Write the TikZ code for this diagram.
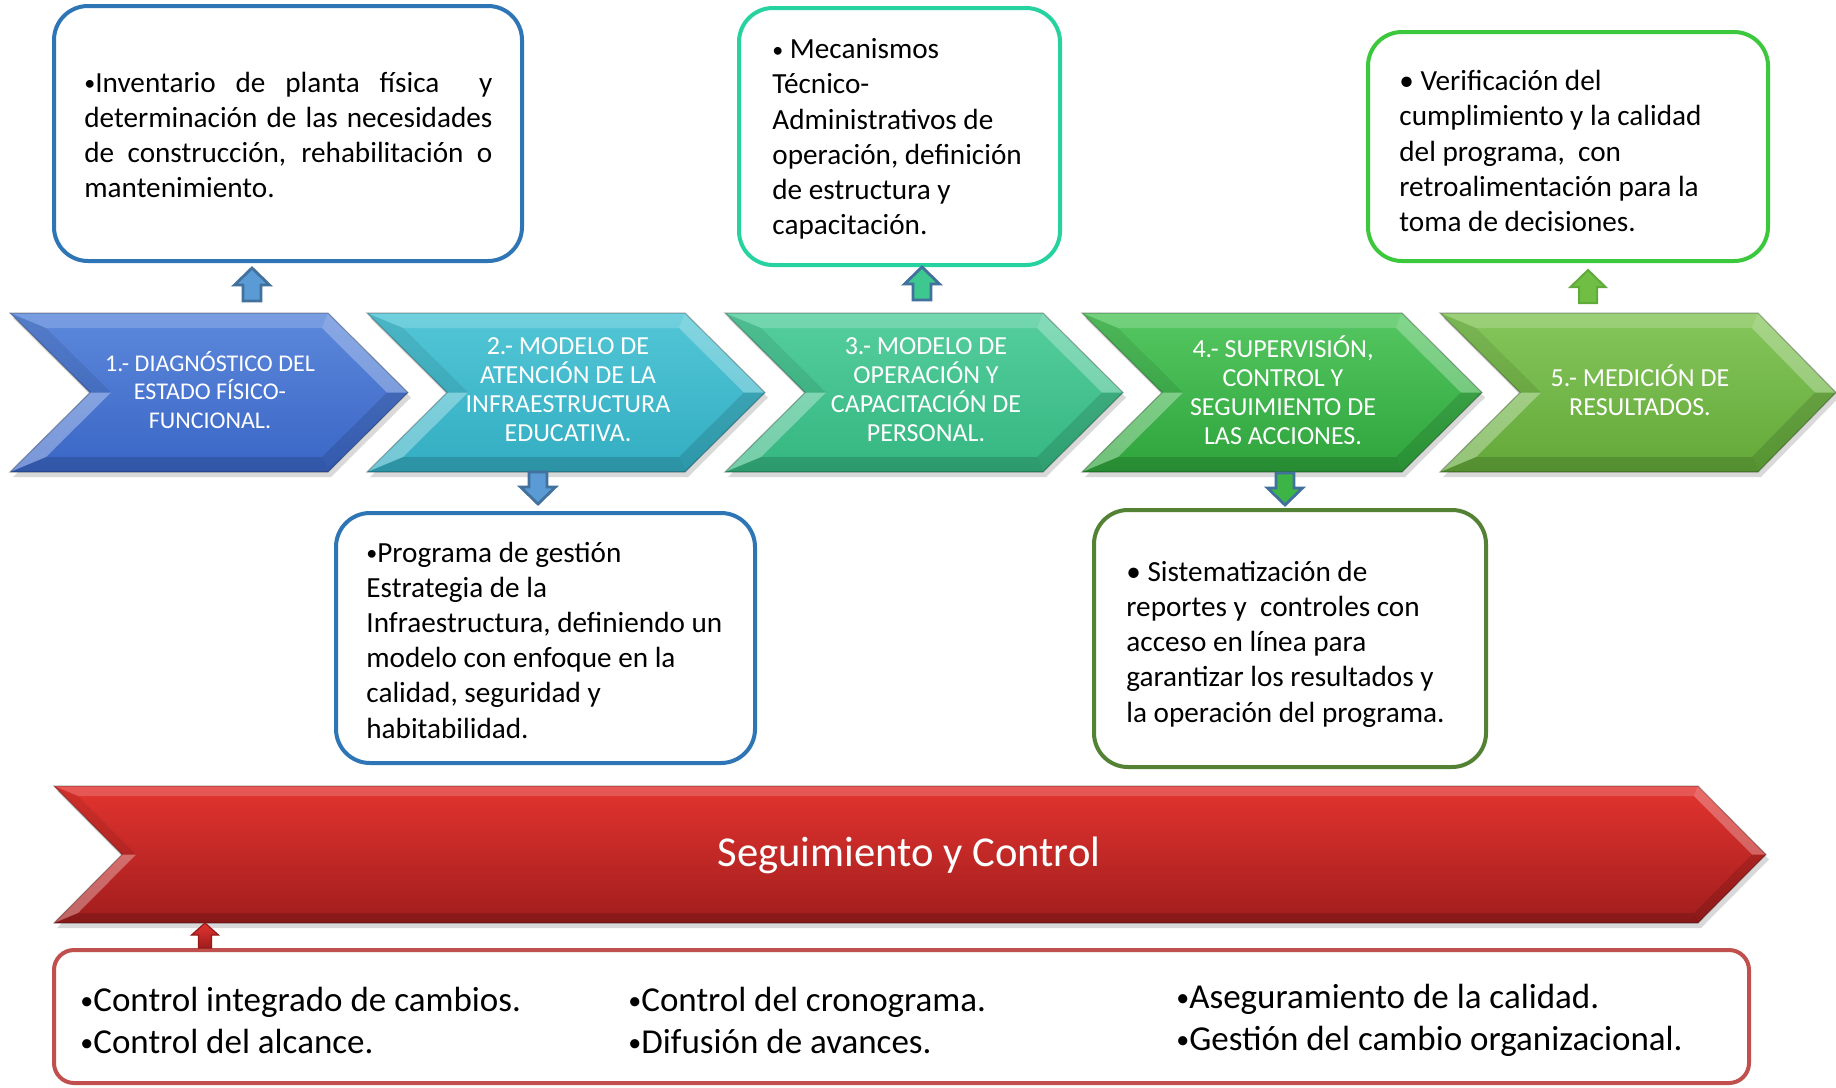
\documentclass[tikz,border=0pt]{standalone}
\usepackage{fontspec}
\setmainfont{Carlito}
\usetikzlibrary{calc}
\definecolor{bxblue}{HTML}{2E75B6}
\definecolor{bxteal}{HTML}{26D3A0}
\definecolor{bxgreen}{HTML}{3CC83C}
\definecolor{bxolive}{HTML}{548235}
\definecolor{bxred}{HTML}{C0504D}
\definecolor{arrline}{HTML}{41719C}
\definecolor{cA1}{HTML}{5C88DB}\definecolor{cA2}{HTML}{3A66C6}
\definecolor{cB1}{HTML}{52C6D6}\definecolor{cB2}{HTML}{33ADC2}
\definecolor{cC1}{HTML}{55CE9E}\definecolor{cC2}{HTML}{35B680}
\definecolor{cD1}{HTML}{55C762}\definecolor{cD2}{HTML}{2EA43B}
\definecolor{cE1}{HTML}{86C65C}\definecolor{cE2}{HTML}{62A838}
\definecolor{cR1}{HTML}{E3342F}\definecolor{cR2}{HTML}{A01D1D}
\newcommand\mychev[9]{%
 \fill[black,opacity=.15] ({#1+3},{#3+5}) -- ({#2+3},{#3+5}) -- ({#2+#6+3},{(#3+#4)/2+5}) -- ({#2+3},{#4+5}) -- ({#1+3},{#4+5}) -- ({#1+#5+3},{(#3+#4)/2+5}) -- cycle;
 \coordinate (A) at (#1,#3); \coordinate (B) at (#2,#3);
 \coordinate (C) at ({#2+#6},{(#3+#4)/2}); \coordinate (D) at (#2,#4);
 \coordinate (E) at (#1,#4); \coordinate (F) at ({#1+#5},{(#3+#4)/2});
 \coordinate (Ai) at ({#1+2.4*#9},{#3+#9}); \coordinate (Bi) at ({#2-0.4*#9},{#3+#9});
 \coordinate (Ci) at ({#2+#6-1.4*#9},{(#3+#4)/2}); \coordinate (Di) at ({#2-0.4*#9},{#4-#9});
 \coordinate (Ei) at ({#1+2.4*#9},{#4-#9}); \coordinate (Fi) at ({#1+#5+1.4*#9},{(#3+#4)/2});
 \shade[top color=#7, bottom color=#8] (A)--(B)--(C)--(D)--(E)--(F)--cycle;
 \fill[white,opacity=.18] (A)--(B)--(Bi)--(Ai)--cycle;
 \fill[white,opacity=.28] (B)--(C)--(Ci)--(Bi)--cycle;
 \fill[black,opacity=.12] (C)--(D)--(Di)--(Ci)--cycle;
 \fill[black,opacity=.15] (D)--(E)--(Ei)--(Di)--cycle;
 \fill[white,opacity=.32] (E)--(F)--(Fi)--(Ei)--cycle;
 \fill[black,opacity=.08] (F)--(A)--(Ai)--(Fi)--cycle;
 \draw[black,opacity=.25,line width=.6pt] (A)--(B)--(C)--(D)--(E)--(F)--cycle;
}
\newcommand\sbul{\raisebox{.12ex}{\fontsize{11}{11}\selectfont •}}
\newcommand\bbul{\raisebox{.12ex}{\fontsize{13}{13}\selectfont •}}
\tikzset{
 tbox/.style={draw, line width=2pt, rounded corners=17pt, fill=white, inner sep=0pt},
 btext/.style={anchor=west, align=left, inner sep=0pt, text=black, font=\fontsize{14.6}{17.6}\selectfont},
 chevtxt/.style={text=white, align=center, inner sep=0pt, font=\fontsize{13}{14.5}\selectfont},
 btxt/.style={anchor=west, align=left, inner sep=0pt, font=\fontsize{17.5}{21}\selectfont},
 smallarr/.style={draw=arrline, line width=1.4pt, line join=miter},
 uparr/.pic={\path[pic actions] (-9,0) -- (-9,-16) -- (-17.5,-16) -- (0,-33) -- (17.5,-16) -- (9,-16) -- (9,0) -- cycle;},
 dnarr/.pic={\path[pic actions] (-9,0) -- (-9,15) -- (-17.5,15) -- (0,32) -- (17.5,15) -- (9,15) -- (9,0) -- cycle;},
 redarr/.pic={\path[pic actions] (-6.5,0) -- (-6.5,-13) -- (-13.5,-13) -- (0,-25) -- (13.5,-13) -- (6.5,-13) -- (6.5,0) -- cycle;},
}
\begin{document}
\begin{tikzpicture}[x=0.5pt,y=-0.5pt]
\useasboundingbox (0,0) rectangle (1836,1087);
\fill[white] (0,0) rectangle (1836,1087);

% chevrons
\mychev{10}{328}{313}{472}{80}{80}{cA1}{cA2}{15}
\mychev{367}{685}{313}{472}{80}{80}{cB1}{cB2}{15}
\mychev{725}{1043}{313}{472}{80}{80}{cC1}{cC2}{15}
\mychev{1082}{1402}{313}{472}{80}{80}{cD1}{cD2}{15}
\mychev{1440}{1758}{313}{472}{80}{78}{cE1}{cE2}{15}

\node[chevtxt, font=\fontsize{12}{14.4}\selectfont] (c1) at (210,390) {1.- DIAGNÓSTICO DEL\\ESTADO FÍSICO-\\FUNCIONAL.};
\node[chevtxt] (c2) at (568,390) {2.- MODELO DE\\ATENCIÓN DE LA\\INFRAESTRUCTURA\\EDUCATIVA.};
\node[chevtxt] (c3) at (926,390) {3.- MODELO DE\\OPERACIÓN Y\\CAPACITACIÓN DE\\PERSONAL.};
\node[chevtxt] (c4) at (1283,390) {4.- SUPERVISIÓN,\\CONTROL Y\\SEGUIMIENTO DE\\LAS ACCIONES.};
\node[chevtxt] (c5) at (1640,390) {5.- MEDICIÓN DE\\RESULTADOS.};

% red chevron
\mychev{54}{1698}{786}{923}{68}{68}{cR1}{cR2}{10}
\node[text=white, inner sep=0pt, font=\fontsize{21.3}{25}\selectfont] (sc) at (909,855) {Seguimiento y Control};

% text boxes
\node[tbox, draw=bxblue, minimum width=234pt, minimum height=127.5pt] (b1) at (288,133.5) {};
\node[btext] (t1) at (84,135)
 {\makebox[204pt][s]{\sbul Inventario de planta física \ y}\\
  \makebox[204pt][s]{determinación de las necesidades}\\
  \makebox[204pt][s]{de construcción, rehabilitación o}\\
  mantenimiento.};
\node[tbox, draw=bxteal, minimum width=160.5pt, minimum height=128.5pt] (b2) at (899.5,136.5) {};
\node[btext] (t2) at (772,139)
 {\sbul\ Mecanismos\\Técnico-\\Administrativos de\\operación, definición\\de estructura y\\capacitación.};
\node[tbox, draw=bxgreen, minimum width=200pt, minimum height=114.5pt] (b3) at (1568,146.5) {};
\node[btext] (t3) at (1399,151)
 {• Verificación del\\cumplimiento y la calidad\\del programa, \ con\\retroalimentación para la\\toma de decisiones.};
\node[tbox, draw=bxblue, minimum width=209.5pt, minimum height=125pt] (b4) at (545.5,638) {};
\node[btext] (t4) at (366,640)
 {\sbul Programa de gestión\\Estrategia de la\\Infraestructura, definiendo un\\modelo con enfoque en la\\calidad, seguridad y\\habitabilidad.};
\node[tbox, draw=bxolive, minimum width=196pt, minimum height=128.5pt] (b5) at (1290,638.5) {};
\node[btext] (t5) at (1126,644)
 {• Sistematización de\\reportes y \ controles con\\acceso en línea para\\garantizar los resultados y\\la operación del programa.};

% bottom box
\node[draw=bxred, line width=2pt, rounded corners=10pt, fill=white, minimum width=847.5pt, minimum height=66.5pt, inner sep=0pt] (b6) at (901.5,1016.5) {};
\node[btxt] (l1) at (80,1020) {\bbul Control integrado de cambios.\\\bbul Control del alcance.};
\node[btxt] (l2) at (628,1020) {\bbul Control del cronograma.\\\bbul Difusión de avances.};
\node[btxt] (l3) at (1176,1020) {\bbul Aseguramiento de la calidad.\\\bbul Gestión del cambio organizacional.};

% small block arrows
\pic[smallarr, fill={rgb,255:red,91;green,155;blue,213}] (a1) at (252,301) {uparr};
\pic[smallarr, fill={rgb,255:red,91;green,155;blue,213}] (a2) at (538,472) {dnarr};
\pic[smallarr, fill={rgb,255:red,60;green,200;blue,142}] (a3) at (922,300) {uparr};
\pic[smallarr, fill={rgb,255:red,60;green,180;blue,70}] (a4) at (1285,473) {dnarr};
\pic[draw={rgb,255:red,96;green,170;blue,60}, line width=1pt, fill={rgb,255:red,112;green,191;blue,68}] (a5) at (1588,303) {uparr};
\pic[draw={rgb,255:red,150;green,25;blue,25}, line width=.6pt, top color=cR1, bottom color=cR2] (a6) at (205,948) {redarr};
\end{tikzpicture}
\end{document}
